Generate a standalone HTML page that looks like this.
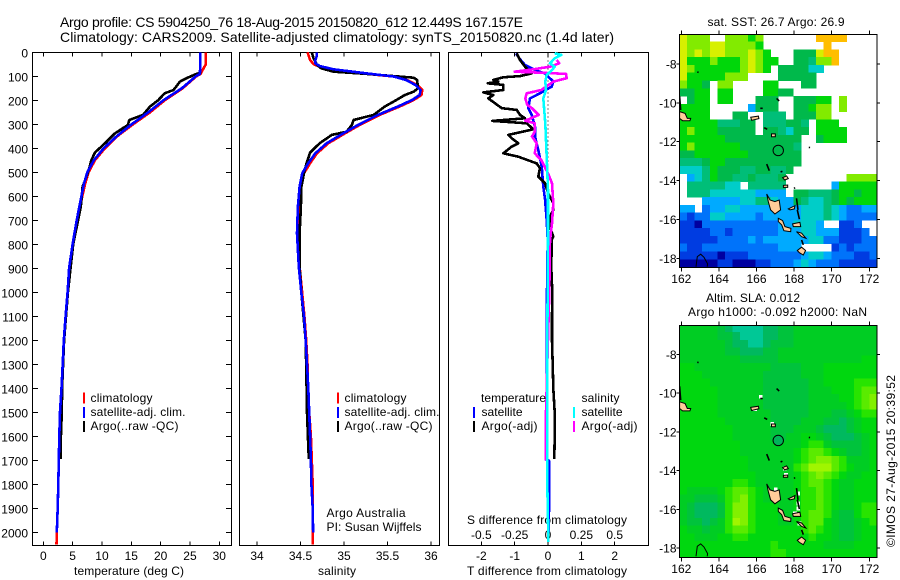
<!DOCTYPE html>
<html lang="en">
<head>
<meta charset="utf-8">
<title>Argo profile CS 5904250_76</title>
<style>
html,body{margin:0;padding:0;background:#fff;}
svg{display:block;font-family:"Liberation Sans",sans-serif;font-size:12px;fill:#000;}
</style>
</head>
<body>
<svg id="fig" xmlns="http://www.w3.org/2000/svg" width="900" height="580" viewBox="0 0 900 580">
<rect x="0" y="0" width="900" height="580" fill="#fff"/>
<text x="60" y="27" font-size="14" textLength="463">Argo profile: CS 5904250_76 18-Aug-2015 20150820_612 12.449S 167.157E</text>
<text x="60" y="42" font-size="14" textLength="554">Climatology: CARS2009. Satellite-adjusted climatology: synTS_20150820.nc (1.4d later)</text>
<text x="74" y="575" textLength="110">temperature (deg C)</text>
<text x="318" y="575" textLength="38">salinity</text>
<text x="467" y="575" textLength="160">T difference from climatology</text>
<text x="467" y="524" textLength="160">S difference from climatology</text>
<text x="326.5" y="517" textLength="79">Argo Australia</text>
<text x="326.5" y="531" textLength="95">PI: Susan Wijffels</text>
<text x="707.5" y="26" textLength="137">sat. SST: 26.7 Argo: 26.9</text>
<text x="706" y="302" textLength="94">Altim. SLA: 0.012</text>
<text x="688" y="316" textLength="179">Argo h1000: -0.092 h2000: NaN</text>
<text transform="translate(895,547) rotate(-90)" x="0" y="0" textLength="172">©IMOS 27-Aug-2015 20:39:52</text>
<g id="layer"></g>
</svg>
<script>
// ---------- axis tick labels ----------
const depthTicks = [0,100,200,300,400,500,600,700,800,900,1000,1100,1200,1300,1400,1500,1600,1700,1800,1900,2000];
const tempTicks = [0,5,10,15,20,25,30];
const salTicks = [34,34.5,35,35.5,36];
const dTTicks = [-2,-1,0,1,2];
const dSTicks = [-0.5,-0.25,0,0.25,0.5];
const lonTicks = [162,164,166,168,170,172];
const latTicks = [-8,-10,-12,-14,-16,-18];

// ---------- temperature profiles ----------
const climDepth = [0,50,90,100,150,200,250,300,350,400,450,500,550,600,700,800,900,1000,1100,1200,1300,1400,1500,1600,1700,1800,1900,2000,2050];
const climTemp = [27.7,27.7,26.8,26.1,23.75,20.7,18.2,15.3,12.6,10.5,8.8,7.7,7.1,6.65,5.75,5.05,4.45,4.2,3.85,3.55,3.35,3.15,2.9,2.75,2.65,2.55,2.45,2.3,2.25];
const satDepth = [0,50,90,100,150,200,250,300,350,400,450,500,550,600,700,800,900,1000,1100,1200,1300,1400,1500,1600,1700,1800,1900,2000];
const satTemp = [26.76,26.76,26.7,26.0,23.6,20.45,17.9,15.05,12.5,10.3,8.6,7.5,6.9,6.5,5.7,5.0,4.4,4.15,3.8,3.5,3.3,3.1,2.85,2.73,2.65,2.56,2.45,2.3];
const argoTempDepth = [0,85,90,108,122,157,171,199,226,261,282,303,338,379,418,449,497,560,643,800,1000,1200,1400,1500,1600,1695];
const argoTemp = [26.76,26.76,26.1,24.4,23.3,22.2,20.7,19.6,18.2,17.0,14.66,14.4,12.2,10.5,8.8,8.2,7.67,6.7,6.4,5.1,4.2,3.55,3.2,3.15,3.0,3.0];

// ---------- salinity profiles ----------
const climSalDepth = [0,32,49,60,74,90,101,115,136,157,178,199,226,261,303,338,379,421,462,504,560,643,754,893,1004,1100,1200,1300,1400,1500,1600,1700,1800,1900,2000,2050];
const climSal = [34.58,34.61,34.65,34.72,34.88,35.26,35.57,35.72,35.84,35.90,35.89,35.8,35.64,35.41,35.18,35.01,34.82,34.69,34.61,34.54,34.50,34.475,34.47,34.49,34.52,34.545,34.565,34.58,34.58,34.60,34.62,34.63,34.64,34.64,34.64,34.64];
const satSalDepth = [0,18,32,46,57,71,88,101,115,136,157,178,199,226,261,303,338,379,421,462,504,560,643,754,893,1004,1100,1200,1300,1400,1500,1600,1700,1800,1900,2000];
const satSal = [34.685,34.685,34.67,34.67,34.72,34.88,35.26,35.57,35.71,35.82,35.88,35.87,35.78,35.62,35.39,35.16,34.99,34.80,34.67,34.59,34.52,34.49,34.47,34.46,34.48,34.51,34.54,34.56,34.575,34.59,34.60,34.61,34.62,34.625,34.64,34.645];
const argoSalDepth = [0,25,53,67,81,90,99,106,115,150,164,178,199,226,261,282,303,331,344,379,418,462,504,560,643,754,893,1004,1200,1400,1500,1600,1695];
const argoSal = [34.63,34.65,34.69,34.74,34.88,35.26,35.57,35.80,35.84,35.85,35.8,35.70,35.6,35.47,35.34,35.11,35.09,35.03,34.86,34.72,34.61,34.57,34.54,34.51,34.505,34.49,34.49,34.51,34.56,34.57,34.575,34.585,34.595];

// ---------- difference profiles ----------
const satDTDepth = [4,25,53,74,88,122,143,171,192,233,261,310,351,407,476,560,611,699,782,1000,1400,1700,1701,1900,2000];
const satDT = [-0.96,-0.86,-0.69,-0.39,-0.09,0.16,0.11,-0.24,-0.54,-0.59,-0.49,-0.39,-0.39,-0.29,-0.19,-0.14,-0.09,-0.04,-0.01,-0.03,-0.04,-0.04,0.03,0.03,0.02];
const argoDTDepth = [4,32,60,74,88,99,104,115,122,129,136,157,167,178,192,212,233,240,261,275,286,296,321,344,358,379,393,421,435,463,483,518,546,588,629,657,685,726,768,782,900,1000,1100,1200,1300,1400,1500,1600,1695];
const argoDT = [-0.94,-0.84,-0.69,-0.59,-0.49,-0.84,-1.34,-1.64,-1.49,-1.81,-1.34,-1.34,-1.94,-1.64,-1.79,-1.59,-1.39,-0.94,-0.84,-0.69,-1.67,-0.64,-0.44,-1.19,-1.09,-0.89,-1.09,-1.34,-0.89,-0.34,-0.24,-0.29,-0.09,0.01,0.16,0.16,0.06,0.06,0.16,0.11,0.1,0.13,0.12,0.12,0.14,0.16,0.2,0.2,0.19];
const argoDSDepth = [32,46,60,71,81,85,90,108,122,157,171,192,219,233,261,285,296,331,351,379,421,449,504,546,629,713,782,1000,1300,1500,1700];
const argoDS = [0.065,0.085,0.015,-0.11,-0.25,-0.06,0.135,0.14,0.04,-0.05,-0.16,-0.17,-0.155,-0.12,-0.07,-0.17,-0.10,-0.1,-0.12,-0.085,-0.1,-0.05,0,0.03,0.04,0.03,0.015,0.01,-0.005,-0.015,-0.018];
const satDSDepth = [4,11,25,46,60,74,94,122,157,192,296,435,574,782,1200,1800,2040];
const satDS = [0.05,0.10,0.05,0.015,0.05,0.03,-0.01,-0.02,-0.015,-0.035,-0.02,-0.01,0,0,-0.005,-0.005,0.003];

// ---------- map grids (level per 0.4 degree cell; N = no data) ----------
const N = null;
const sstRow00 = [9,8,8,8,N,N,8,8,8,7,8,N,N,N,N,N,N,N,10,10,10,10,N,N,N,N];
const sstRow01 = [9,8,8,8,9,9,8,8,8,8,7,N,N,N,N,N,N,N,N,10,N,N,N,N,N,N];
const sstRow02 = [9,8,9,8,9,9,8,8,8,9,8,7,N,N,N,6,6,6,9,10,10,N,N,N,N,N];
const sstRow03 = [9,7,7,7,8,7,7,7,8,9,8,7,7,N,N,6,6,5,8,8,10,N,N,N,N,N];
const sstRow04 = [9,8,7,7,7,7,7,7,8,9,8,7,N,6,6,6,6,4,4,N,N,N,N,N,N,N];
const sstRow05 = [9,7,7,7,7,7,8,8,8,N,N,N,N,6,6,6,6,6,N,N,N,N,N,N,N,N];
const sstRow06 = [8,7,7,6,N,8,8,N,N,N,N,7,7,N,N,N,6,6,N,N,N,N,N,N,N,N];
const sstRow07 = [6,6,7,7,N,7,7,N,N,N,N,7,7,6,6,N,N,N,N,N,N,N,N,N,N,N];
const sstRow08 = [N,6,7,7,N,7,7,N,N,N,6,6,6,N,N,6,6,6,7,7,N,8,N,N,N,N];
const sstRow09 = [7,7,7,7,N,N,N,N,N,3,6,6,6,N,N,6,6,7,8,8,N,8,N,N,N,N];
const sstRow10 = [7,7,7,7,N,N,N,6,6,N,N,5,5,5,N,6,6,6,8,8,N,N,N,N,N,N];
const sstRow11 = [7,7,7,7,7,5,5,5,6,6,N,5,5,5,6,6,5,N,7,7,7,N,N,N,N,N];
const sstRow12 = [7,8,7,7,7,6,6,6,6,6,N,6,6,5,4,6,6,N,7,7,7,7,N,N,N,N];
const sstRow13 = [7,7,7,7,7,7,6,6,6,6,6,6,6,6,6,6,N,N,6,7,7,7,N,N,N,N];
const sstRow14 = [7,8,7,7,7,7,7,7,6,6,6,6,6,6,6,5,N,N,N,N,N,N,N,N,N,N];
const sstRow15 = [6,6,7,7,7,7,7,7,7,6,6,6,6,6,6,6,N,N,N,N,N,N,N,N,N,N];
const sstRow16 = [5,5,5,6,7,7,6,6,6,6,6,6,6,6,6,6,N,N,N,N,N,N,N,N,N,N];
const sstRow17 = [4,4,4,5,7,6,6,6,5,5,6,6,5,5,6,N,N,N,N,N,N,N,N,N,N,N];
const sstRow18 = [N,3,4,5,7,6,6,5,5,6,5,5,5,6,N,N,N,N,N,N,N,N,8,8,8,8];
const sstRow19 = [N,5,5,5,5,5,4,4,N,5,5,5,5,5,N,N,N,N,N,N,3,7,7,7,7,7];
const sstRow20 = [N,5,5,5,4,4,4,4,4,4,3,3,3,3,N,6,6,5,5,5,6,7,7,6,7,7];
const sstRow21 = [N,N,N,3,3,3,3,3,4,4,5,5,4,3,3,6,5,4,4,5,6,7,6,7,7,7];
const sstRow22 = [3,3,N,2,3,3,4,4,3,3,3,3,3,3,3,3,4,4,4,5,4,3,2,2,3,3];
const sstRow23 = [2,1,2,2,4,4,3,3,3,3,2,3,3,3,3,3,4,4,4,5,4,3,2,2,2,2];
const sstRow24 = [1,1,0,2,2,2,2,2,2,2,2,2,2,3,3,4,4,4,3,N,N,1,1,2,N,N];
const sstRow25 = [1,1,1,1,2,2,1,2,2,2,2,2,2,3,3,3,4,4,3,3,3,1,1,1,2,N];
const sstRow26 = [1,1,1,1,1,2,2,2,2,3,2,3,3,3,3,3,3,4,4,2,2,1,1,1,2,2];
const sstRow27 = [2,1,1,2,2,2,2,2,2,2,2,2,2,3,3,3,N,N,N,N,1,2,1,2,2,2];
const sstRow28 = [1,1,1,1,1,0,1,1,1,2,2,2,2,2,2,2,3,4,4,3,2,2,2,1,1,2];
const sstRow29 = [0,0,0,0,0,1,1,0,0,0,1,1,2,2,2,3,4,3,2,2,2,1,1,1,1,1];
const sstLevels = [sstRow00,sstRow01,sstRow02,sstRow03,sstRow04,sstRow05,sstRow06,sstRow07,sstRow08,sstRow09,sstRow10,sstRow11,sstRow12,sstRow13,sstRow14,sstRow15,sstRow16,sstRow17,sstRow18,sstRow19,sstRow20,sstRow21,sstRow22,sstRow23,sstRow24,sstRow25,sstRow26,sstRow27,sstRow28,sstRow29];

const slaRow00 = [0,0,0,0,0,-1,-2,-3,-3,-3,-3,-2,-2,-1,-1,0,0,0,0,0,0,0,0,0,0,0];
const slaRow01 = [0,0,0,0,0,-1,-1,-2,-3,-3,-3,-2,-2,-1,-1,0,0,0,0,0,0,0,0,0,0,0];
const slaRow02 = [0,0,0,0,0,0,-1,-2,-2,-3,-3,-2,-1,-1,-1,0,0,0,0,0,0,0,0,0,0,0];
const slaRow03 = [0,0,0,0,0,0,-1,-1,-2,-2,-2,-1,-1,0,0,0,0,0,0,0,0,0,0,0,0,0];
const slaRow04 = [0,0,0,0,0,0,0,0,-1,-1,-1,-1,-1,0,0,0,0,0,0,0,0,0,0,0,1,1];
const slaRow05 = [1,1,0,0,0,0,0,0,0,0,0,0,-1,-1,-1,-1,0,0,0,1,1,1,1,1,1,1];
const slaRow06 = [1,1,1,0,0,0,0,0,0,0,0,-1,-1,-1,-1,-1,0,0,0,1,1,1,1,1,1,1];
const slaRow07 = [1,1,1,1,0,0,0,0,0,0,0,-1,-1,-1,-1,-1,-1,0,0,1,1,1,1,2,2,2];
const slaRow08 = [1,1,1,1,1,0,0,0,0,0,0,-1,-1,-1,-1,-1,-1,0,0,0,1,1,1,2,3,3];
const slaRow09 = [1,1,1,1,1,0,0,0,0,0,0,-1,-1,-1,-1,-1,-1,0,0,0,0,1,1,2,3,4];
const slaRow10 = [1,1,1,1,1,0,0,0,0,0,0,-1,-1,-1,-1,-1,-1,0,0,0,0,0,1,2,3,4];
const slaRow11 = [1,1,1,1,1,0,0,0,0,0,0,0,-1,-1,-1,-1,-1,0,0,0,-1,-1,0,1,2,2];
const slaRow12 = [1,1,1,1,1,1,0,0,0,0,0,0,-1,-1,-1,-1,0,0,0,-1,-1,-2,-1,0,1,1];
const slaRow13 = [1,1,1,1,1,1,1,0,0,0,0,0,-1,-1,-1,0,0,0,-1,-2,-2,-2,-1,0,1,1];
const slaRow14 = [1,1,1,1,1,1,1,0,0,0,0,0,-1,-1,0,0,1,1,0,-1,-2,-2,-2,-1,0,1];
const slaRow15 = [1,1,1,1,1,1,1,1,0,0,0,0,0,0,0,0,1,2,2,0,-1,-1,-1,-1,0,1];
const slaRow16 = [1,1,1,1,1,1,1,1,0,0,0,0,0,0,0,1,2,3,3,2,1,0,-1,-1,0,1];
const slaRow17 = [1,1,1,1,1,1,1,1,1,0,0,0,0,0,0,1,2,3,4,4,3,2,0,0,0,1];
const slaRow18 = [1,1,1,1,1,1,1,1,1,0,0,0,0,0,0,2,3,5,5,5,3,2,1,0,0,1];
const slaRow19 = [1,1,1,1,1,1,1,1,1,1,0,0,0,0,0,1,2,3,4,3,2,1,0,0,1,1];
const slaRow20 = [1,1,1,1,1,1,1,2,2,1,0,0,0,0,0,1,2,3,3,2,1,0,0,1,1,1];
const slaRow21 = [1,0,0,0,0,1,2,3,3,2,1,0,0,0,0,1,2,2,3,2,1,0,0,1,1,1];
const slaRow22 = [0,0,-1,-1,-1,0,2,3,4,2,1,0,0,0,0,1,2,2,3,2,1,0,0,1,1,1];
const slaRow23 = [0,-1,-2,-2,-2,-1,2,4,4,2,1,1,1,0,0,1,2,2,3,2,1,0,0,1,2,2];
const slaRow24 = [0,-1,-2,-2,-2,-1,2,4,4,2,1,1,1,0,0,1,2,3,3,2,0,-1,-1,1,2,2];
const slaRow25 = [0,-1,-1,-2,-1,0,2,5,4,2,1,1,1,0,0,1,2,3,3,1,0,-1,-1,0,1,2];
const slaRow26 = [1,0,0,-1,0,0,2,3,3,2,1,1,1,1,1,1,2,3,2,1,0,-1,-1,0,1,1];
const slaRow27 = [1,1,0,0,0,1,1,2,2,1,1,1,1,1,1,1,1,2,1,1,0,-1,-1,0,1,1];
const slaRow28 = [1,1,1,1,1,1,1,1,1,1,1,1,2,1,1,1,1,1,1,0,0,0,0,1,1,1];
const slaRow29 = [1,1,1,1,1,1,1,1,1,1,1,1,2,2,1,1,1,1,1,1,1,1,1,1,1,1];
const slaLevels = [slaRow00,slaRow01,slaRow02,slaRow03,slaRow04,slaRow05,slaRow06,slaRow07,slaRow08,slaRow09,slaRow10,slaRow11,slaRow12,slaRow13,slaRow14,slaRow15,slaRow16,slaRow17,slaRow18,slaRow19,slaRow20,slaRow21,slaRow22,slaRow23,slaRow24,slaRow25,slaRow26,slaRow27,slaRow28,slaRow29];

// Colour look-ups (level -> colour)
const sstColours = ['rgb(0,0,160)','rgb(0,60,225)','rgb(0,115,250)','rgb(0,170,255)','rgb(0,205,200)','rgb(0,190,120)','rgb(0,185,75)','rgb(0,215,10)','rgb(130,235,0)','rgb(215,240,0)','rgb(255,190,0)'];
const slaColours = {'-3':'rgb(0,200,150)','-2':'rgb(0,185,95)','-1':'rgb(0,195,60)','0':'rgb(0,205,35)','1':'rgb(0,215,15)','2':'rgb(40,228,0)','3':'rgb(90,235,0)','4':'rgb(130,240,0)','5':'rgb(160,245,0)'};

// Geography (lon, degrees south)
const islandNames = ['ndeni','vanikoro','utupua','vanua-lava','gaua','santo','ambae','malakula','ambrym','shepherds','efate'];
const islandOutlines = [
 [[161.91,10.45],[162.2,10.54],[162.32,10.8],[162.5,10.8],[162.46,10.92],[162.07,10.92],[161.91,10.8]],
 [[165.69,10.74],[166.1,10.68],[166.13,10.81],[165.74,10.9]],
 [[166.8,11.6],[167.0,11.6],[167.0,11.74],[166.8,11.74]],
 [[167.39,13.85],[167.6,13.76],[167.69,13.9],[167.5,13.97]],
 [[167.43,14.25],[167.66,14.23],[167.66,14.35],[167.43,14.35]],
 [[166.54,14.69],[166.72,15.0],[166.98,15.08],[167.21,15.0],[167.28,15.51],[166.98,15.72],[166.75,15.51],[166.63,15.08]],
 [[167.69,15.46],[168.05,15.29],[168.01,15.46],[167.78,15.51]],
 [[167.16,15.94],[167.39,16.06],[167.51,16.37],[167.83,16.46],[167.82,16.63],[167.46,16.58],[167.34,16.28],[167.16,16.11]],
 [[167.92,16.23],[168.31,16.15],[168.35,16.37],[167.96,16.37]],
 [[168.13,16.63],[168.4,16.71],[168.63,16.97],[168.4,16.89]],
 [[168.17,17.6],[168.4,17.43],[168.61,17.6],[168.49,17.83],[168.28,17.71]]
];
const reefNames = ['solomon-edge','tinakula','reef-north','duff','torres','mota','pentecost-north','pentecost-south','paama','dot-west','dot-east','vanikoro-north'];
const reefLines = [
 [[161.91,9.65],[161.97,10.37]],
 [[166.2,10.28],[166.33,10.28]],
 [[167.07,9.77],[167.21,9.9]],
 [[166.41,11.28],[166.57,11.36]],
 [[166.54,13.15],[166.68,13.49]],
 [[167.28,13.56],[167.38,13.52]],
 [[168.13,14.91],[168.21,15.51]],
 [[168.17,15.51],[168.28,15.99]],
 [[168.4,17.06],[168.49,17.31]],
 [[162.85,8.41],[162.92,8.43]],
 [[168.78,12.29],[168.85,12.3]],
 [[168.0,14.41],[168.05,14.36]]
];
const seamount = [[162.78,18.43],[162.85,17.91],[163.03,17.79],[163.21,17.95],[163.4,18.29],[163.38,18.43]];
const slaMaskLon = [166.22,165.92,166.84,167.5,167.57,167.02,168.22,168.22,168.22,168.05,168.28];
const slaMaskLat = [10.19,10.84,11.6,13.9,14.24,14.98,15.19,15.7,15.97,16.22,16.74];
const argoLon = 167.157;
const argoLat = 12.449;

// ---------- axis functions ----------
const yD = d => 52.3 + d * 0.24;
const xT = t => 43.3 + t * 5.867;
const xS = s => 257 + (s - 34) * 87;
const xDT = t => 548 + t * 33.33;
const xDS = s => 548 + s * 133.33;
const lonX = lon => 681.3 + (lon - 162) * 18.8;
const latY1 = lat => 64 + (lat - 8) * 19.43;
const latY2 = lat => 354.3 + (lat - 8) * 19.37;
const GRID_LON0 = 161.9, GRID_LAT0 = 6.45, GRID_STEP_LON = 0.404, GRID_STEP_LAT = 0.4;

const layer = document.getElementById('layer');
const NS = 'http://www.w3.org/2000/svg';
function mk(tag, attrs, parent) {
  const el = document.createElementNS(NS, tag);
  for (const k in attrs) el.setAttribute(k, attrs[k]);
  (parent || layer).appendChild(el);
  return el;
}
function hline(x1, y1, x2, y2, name, parent) {
  const el = mk('line', {x1: x1, y1: y1, x2: x2, y2: y2, stroke: '#000', 'stroke-width': 1, 'shape-rendering': 'crispEdges'}, parent);
  
  
  return el;
}
function label(x, y, str, anchor, name, parent) {
  const el = mk('text', {x: x, y: y, 'text-anchor': anchor}, parent);
  el.textContent = str;
  
  
  return el;
}
function profile(depths, vals, xf, colour, name) {
  const pts = depths.map((d, i) => xf(vals[i]).toFixed(1) + ',' + yD(d).toFixed(1)).join(' ');
  const el = mk('polyline', {points: pts, fill: 'none', stroke: colour, 'stroke-width': 2.6, 'stroke-linejoin': 'round', 'shape-rendering': 'crispEdges'});
  
  
  return el;
}
function legendBar(x, y, colour, name) {
  const el = mk('rect', {x: x, y: y, width: 2, height: 11, fill: colour, 'shape-rendering': 'crispEdges'});
  
  
  return el;
}
function legendText(x, y, str, len, name) {
  const el = mk('text', {x: x, y: y, textLength: len});
  el.textContent = str;
  
  
  return el;
}

// ---------- profile panel frames ----------
const PANEL_TOP = 52.5, PANEL_BOT = 545.5;
function frame(x0, x1, name) {
  const el = mk('rect', {x: x0, y: PANEL_TOP, width: x1 - x0, height: PANEL_BOT - PANEL_TOP, fill: 'none', stroke: '#000', 'stroke-width': 1, 'shape-rendering': 'crispEdges'});
  
  
}
frame(32.5, 231.5, 'temperature-panel-frame');
frame(239.5, 439.5, 'salinity-panel-frame');
frame(448.5, 648.5, 'difference-panel-frame');

// Depth ticks on panel 1
depthTicks.forEach(d => {
  const y = yD(d);
  hline(32.5, y, 38, y, 'depth-tick-left');
  hline(226, y, 231.5, y, 'depth-tick-right');
  label(28, y + 5, String(d), 'end', 'depth-tick-label');
});
// Temperature ticks
tempTicks.forEach(t => {
  const x = xT(t);
  hline(x, PANEL_TOP, x, PANEL_TOP + 4, 'temperature-tick-top');
  hline(x, PANEL_BOT - 4, x, PANEL_BOT, 'temperature-tick-bottom');
  label(x, 560, String(t), 'middle', 'temperature-tick-label');
});
// Salinity ticks
salTicks.forEach(s => {
  const x = xS(s);
  hline(x, PANEL_TOP, x, PANEL_TOP + 4, 'salinity-tick-top');
  hline(x, PANEL_BOT - 4, x, PANEL_BOT, 'salinity-tick-bottom');
  label(x, 560, String(s), 'middle', 'salinity-tick-label');
});
// Difference ticks
dTTicks.forEach(t => {
  const x = xDT(t);
  hline(x, PANEL_TOP, x, PANEL_TOP + 4, 'dt-tick-top');
  hline(x, PANEL_BOT - 4, x, PANEL_BOT, 'dt-tick-bottom');
  label(x, 560, String(t), 'middle', 'dt-tick-label');
});
dSTicks.forEach(s => {
  label(xDS(s), 539, String(s), 'middle', 'ds-tick-label');
});

// Zero line in difference panel
const zeroLine = mk('line', {x1: xDT(0), y1: 52.5, x2: xDT(0), y2: 545, stroke: '#000', 'stroke-width': 1, 'stroke-dasharray': '1 3', 'shape-rendering': 'crispEdges'});



// Series
profile(climDepth, climTemp, xT, 'rgb(255,0,0)', 'temperature-climatology-line');
profile(argoTempDepth, argoTemp, xT, '#000', 'temperature-argo-line');
profile(satDepth, satTemp, xT, 'rgb(0,0,255)', 'temperature-satellite-line');
profile(climSalDepth, climSal, xS, 'rgb(255,0,0)', 'salinity-climatology-line');
profile(argoSalDepth, argoSal, xS, '#000', 'salinity-argo-line');
profile(satSalDepth, satSal, xS, 'rgb(0,0,255)', 'salinity-satellite-line');
profile(satDTDepth, satDT, xDT, 'rgb(0,0,255)', 'dt-satellite-line');
profile(argoDTDepth, argoDT, xDT, '#000', 'dt-argo-line');
profile(argoDSDepth, argoDS, xDS, 'rgb(255,0,255)', 'ds-argo-line');
profile(satDSDepth, satDS, xDS, 'rgb(0,255,255)', 'ds-satellite-line');

// Legends
legendBar(83, 392.5, 'rgb(255,0,0)', 'legend-temp-climatology-marker');
legendBar(83, 407, 'rgb(0,0,255)', 'legend-temp-satellite-marker');
legendBar(83, 421, '#000', 'legend-temp-argo-marker');
legendText(90.5, 402, 'climatology', 62, 'legend-temp-climatology');
legendText(90.5, 416, 'satellite-adj. clim.', 95, 'legend-temp-satellite');
legendText(90.5, 430, 'Argo(..raw -QC)', 88, 'legend-temp-argo');
legendBar(337, 392.5, 'rgb(255,0,0)', 'legend-sal-climatology-marker');
legendBar(337, 407, 'rgb(0,0,255)', 'legend-sal-satellite-marker');
legendBar(337, 421, '#000', 'legend-sal-argo-marker');
legendText(344.5, 402, 'climatology', 62, 'legend-sal-climatology');
legendText(344.5, 416, 'satellite-adj. clim.', 95, 'legend-sal-satellite');
legendText(344.5, 430, 'Argo(..raw -QC)', 88, 'legend-sal-argo');
legendText(481, 402, 'temperature', 65, 'legend-dt-heading');
legendBar(473, 407, 'rgb(0,0,255)', 'legend-dt-satellite-marker');
legendBar(473, 421, '#000', 'legend-dt-argo-marker');
legendText(481.5, 416, 'satellite', 41, 'legend-dt-satellite');
legendText(481.5, 430, 'Argo(-adj)', 56, 'legend-dt-argo');
legendText(581.5, 402, 'salinity', 38, 'legend-ds-heading');
legendBar(573, 407, 'rgb(0,255,255)', 'legend-ds-satellite-marker');
legendBar(573, 421, 'rgb(255,0,255)', 'legend-ds-argo-marker');
legendText(581.5, 416, 'satellite', 41, 'legend-ds-satellite');
legendText(581.5, 430, 'Argo(-adj)', 56, 'legend-ds-argo');

// ---------- maps ----------
function drawMap(levels, colourOf, yf, top, bottom, prefix) {
  const clipId = prefix + '-clip';
  const clip = mk('clipPath', {id: clipId});
  mk('rect', {x: 679.5, y: top, width: 197.5, height: bottom - top}, clip);
  const g = mk('g', {'clip-path': 'url(#' + clipId + ')'});
  
  
  levels.forEach((row, r) => {
    row.forEach((v, c) => {
      if (v === null) return;
      const lon = GRID_LON0 + c * GRID_STEP_LON;
      const lat = GRID_LAT0 + r * GRID_STEP_LAT;
      const x0 = lonX(lon), x1 = lonX(lon + GRID_STEP_LON);
      const y0 = yf(lat), y1 = yf(lat + GRID_STEP_LAT);
      const cell = mk('rect', {x: x0.toFixed(2), y: y0.toFixed(2), width: (x1 - x0 + 0.3).toFixed(2), height: (y1 - y0 + 0.3).toFixed(2), fill: colourOf(v), 'shape-rendering': 'crispEdges'}, g);
      
      
    });
  });
  return g;
}
function toPts(arr, yf) { return arr.map(p => lonX(p[0]).toFixed(1) + ',' + yf(p[1]).toFixed(1)).join(' '); }
function drawGeo(g, yf, prefix) {
  islandOutlines.forEach((poly, i) => {
    const el = mk('polygon', {points: toPts(poly, yf), fill: 'rgb(255,204,153)', stroke: '#000', 'stroke-width': 1}, g);
    
    
  });
  reefLines.forEach((line, i) => {
    const el = mk('polyline', {points: toPts(line, yf), fill: 'none', stroke: '#000', 'stroke-width': 1.6}, g);
    
    
  });
  const sm = mk('polyline', {points: toPts(seamount, yf), fill: 'none', stroke: '#000', 'stroke-width': 1}, g);
  
  
  const circ = mk('circle', {cx: lonX(argoLon), cy: yf(argoLat), r: 5.2, fill: 'none', stroke: '#000', 'stroke-width': 1}, g);
  
  
}
function mapAxes(yf, top, bottom, labelBase, prefix) {
  const fr = mk('rect', {x: 679.5, y: top, width: 197.5, height: bottom - top, fill: 'none', stroke: '#000', 'stroke-width': 1, 'shape-rendering': 'crispEdges'});
  
  
  lonTicks.forEach(lon => {
    const x = lonX(lon);
    hline(x, top - 4, x, top, prefix + '-lon-tick-top');
    hline(x, bottom, x, bottom + 4, prefix + '-lon-tick-bottom');
    label(x, labelBase, String(lon), 'middle', prefix + '-lon-label');
  });
  latTicks.forEach(lat => {
    const y = yf(-lat);
    hline(676.5, y, 679.5, y, prefix + '-lat-tick-left');
    hline(877, y, 880, y, prefix + '-lat-tick-right');
    label(676.5, y + 4.5, String(lat), 'end', prefix + '-lat-label');
  });
}

const sstG = drawMap(sstLevels, v => sstColours[v], latY1, 34.5, 267.5, 'sst');
drawGeo(sstG, latY1, 'sst');
mapAxes(latY1, 34.5, 267.5, 283, 'sst');

const slaG = drawMap(slaLevels, v => slaColours[String(v)], latY2, 325.5, 557.5, 'sla');
slaMaskLon.forEach((lon, i) => {
  const m = mk('rect', {x: lonX(lon - 0.1), y: latY2(slaMaskLat[i] - 0.1), width: 3.8, height: 3.8, fill: '#fff', 'shape-rendering': 'crispEdges'}, slaG);
  
  
});
const argoDot = mk('circle', {cx: lonX(argoLon), cy: latY2(argoLat), r: 5.2, fill: 'rgb(0,180,90)'}, slaG);


drawGeo(slaG, latY2, 'sla');
mapAxes(latY2, 325.5, 557.5, 573, 'sla');
</script>
</body>
</html>
